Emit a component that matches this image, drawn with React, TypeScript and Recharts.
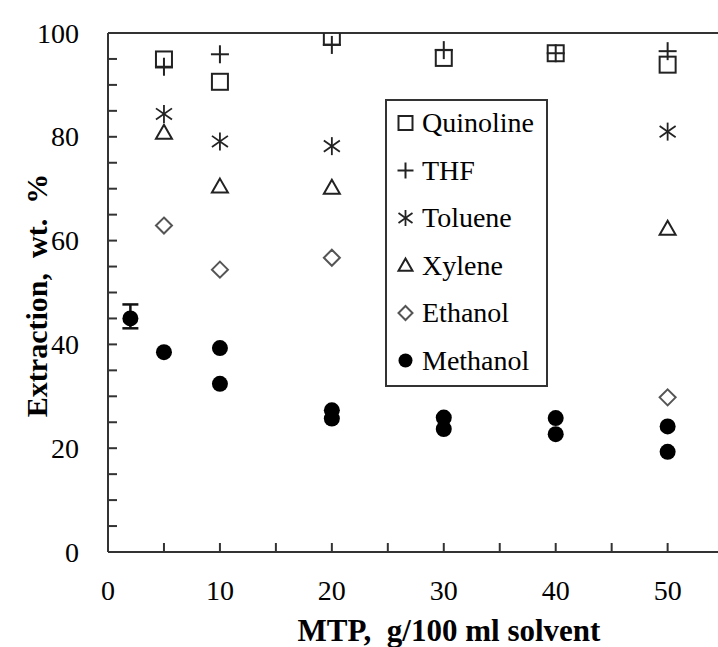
import React from 'react';
import { ScatterChart, Scatter, XAxis, YAxis, ReferenceLine, ErrorBar, Legend } from 'recharts';

const FONT = "'Liberation Serif', 'Times New Roman', Times, serif";

const xTicks = [0, 5, 10, 15, 20, 25, 30, 35, 40, 45, 50];
const xTickLabels = [0, 10, 20, 30, 40, 50];
const yTicks = [0, 5, 10, 15, 20, 25, 30, 35, 40, 45, 50, 55, 60, 65, 70, 75, 80, 85, 90, 95, 100];
const yTickLabels = [0, 20, 40, 60, 80, 100];

const quinolineX = [5, 10, 20, 30, 40, 50];
const quinolineY = [94.9, 90.6, 99.3, 95.2, 96.1, 93.9];
const thfX = [5, 10, 20, 30, 40, 50];
const thfY = [93.5, 95.9, 97.7, 96.7, 96.1, 96.5];
const tolueneX = [5, 10, 20, 50];
const tolueneY = [84.4, 79.1, 78.2, 81.0];
const xyleneX = [5, 10, 20, 50];
const xyleneY = [80.8, 70.4, 70.2, 62.3];
const ethanolX = [5, 10, 20, 50];
const ethanolY = [62.9, 54.4, 56.7, 29.8];
const methanolX = [2, 5, 10, 10, 20, 20, 30, 30, 40, 40, 50, 50];
const methanolY = [45.0, 38.5, 39.3, 32.4, 27.3, 25.7, 25.9, 23.7, 25.8, 22.7, 24.2, 19.3];
const methanolErrX = [2];
const methanolErrY = [45.0];
const methanolErrLowHigh = [[1.9, 2.7]];

const zip = (xs: number[], ys: number[]) => xs.map((x, i) => ({ x, y: ys[i] }));

type Kind = 'square' | 'plus' | 'star' | 'triangle' | 'diamond' | 'circle';

const series: { name: string; kind: Kind; data: { x: number; y: number }[] }[] = [
  { name: 'Quinoline', kind: 'square', data: zip(quinolineX, quinolineY) },
  { name: 'THF', kind: 'plus', data: zip(thfX, thfY) },
  { name: 'Toluene', kind: 'star', data: zip(tolueneX, tolueneY) },
  { name: 'Xylene', kind: 'triangle', data: zip(xyleneX, xyleneY) },
  { name: 'Ethanol', kind: 'diamond', data: zip(ethanolX, ethanolY) },
  { name: 'Methanol', kind: 'circle', data: zip(methanolX, methanolY) },
];

const errData = methanolErrX.map((x, i) => ({ x, y: methanolErrY[i], err: methanolErrLowHigh[i] }));

const INK = '#222';

const Glyph = ({ kind, cx, cy, s }: { kind: Kind; cx: number; cy: number; s: number }) => {
  const h = s / 2;
  switch (kind) {
    case 'square':
      return <rect x={cx - h} y={cy - h} width={s} height={s} fill="none" stroke={INK} strokeWidth={2} />;
    case 'plus':
      return (
        <g stroke={INK} strokeWidth={2}>
          <line x1={cx - h - 1} x2={cx + h + 1} y1={cy} y2={cy} />
          <line x1={cx} x2={cx} y1={cy - h - 1} y2={cy + h + 1} />
        </g>
      );
    case 'star':
      return (
        <g stroke={INK} strokeWidth={1.8}>
          <line x1={cx} x2={cx} y1={cy - h - 1} y2={cy + h + 1} />
          <line x1={cx - h} x2={cx + h} y1={cy - h * 0.7} y2={cy + h * 0.7} />
          <line x1={cx - h} x2={cx + h} y1={cy + h * 0.7} y2={cy - h * 0.7} />
        </g>
      );
    case 'triangle':
      return (
        <polygon
          points={`${cx},${cy - h} ${cx + h},${cy + h * 0.75} ${cx - h},${cy + h * 0.75}`}
          fill="none"
          stroke={INK}
          strokeWidth={2}
          strokeLinejoin="miter"
        />
      );
    case 'diamond':
      return (
        <polygon
          points={`${cx},${cy - h} ${cx + h},${cy} ${cx},${cy + h} ${cx - h},${cy}`}
          fill="#fff"
          stroke="#555"
          strokeWidth={2}
        />
      );
    case 'circle':
    default:
      return <circle cx={cx} cy={cy} r={h} fill="#000" />;
  }
};

const makeShape = (kind: Kind) => (props: any) => <Glyph kind={kind} cx={props.cx} cy={props.cy} s={16} />;

const XTick = (props: any) => {
  const { x, y, payload } = props;
  const v = payload.value;
  return (
    <g>
      <line x1={x} x2={x} y1={y} y2={y - 9} stroke="#333" strokeWidth={2} />
      {xTickLabels.includes(v) && (
        <text x={x} y={y + 48} textAnchor="middle" fontFamily={FONT} fontSize={28} fill="#000">
          {v}
        </text>
      )}
    </g>
  );
};

const YTick = (props: any) => {
  const { x, y, payload } = props;
  const v = payload.value;
  return (
    <g>
      <line x1={x} x2={x + 9} y1={y} y2={y} stroke="#333" strokeWidth={2} />
      {yTickLabels.includes(v) && (
        <text x={x - 29} y={y + 9.5} textAnchor="end" fontFamily={FONT} fontSize={28} fill="#000">
          {v}
        </text>
      )}
    </g>
  );
};

const XTitle = (props: any) => {
  const vb = props.viewBox;
  return (
    <text
      x={vb.x + vb.width / 2 + 36}
      y={vb.y + vb.height - 6}
      textAnchor="middle"
      fontFamily={FONT}
      fontWeight="bold"
      fontSize={31}
      fill="#000"
      style={{ whiteSpace: 'pre' }}
    >
      {'MTP,  g/100 ml solvent'}
    </text>
  );
};

const YTitle = (props: any) => {
  const vb = props.viewBox;
  const cx = 36;
  const cy = vb.y + vb.height / 2 + 3;
  return (
    <text
      x={cx}
      y={cy}
      transform={`rotate(-90, ${cx}, ${cy})`}
      textAnchor="middle"
      dominantBaseline="central"
      fontFamily={FONT}
      fontWeight="bold"
      fontSize={30}
      fill="#000"
      style={{ whiteSpace: 'pre' }}
    >
      {'Extraction,  wt.  %'}
    </text>
  );
};

const LW = 163;
const LH = 288;
const ROW = 47.5;

const LegendBox = () => (
  <svg width={LW} height={LH} style={{ display: 'block' }}>
    <rect x={1} y={1} width={LW - 2} height={LH - 2} fill="#fff" stroke="#333" strokeWidth={2} />
    {series.map((s, i) => {
      const cy = 24 + i * ROW;
      return (
        <g key={s.name}>
          <Glyph kind={s.kind} cx={20.5} cy={cy} s={14} />
          <text x={37} y={cy + 9} fontFamily={FONT} fontSize={28} fill="#000">
            {s.name}
          </text>
        </g>
      );
    })}
  </svg>
);

export default function App() {
  return (
    <div
      style={{
        position: 'absolute',
        left: 0,
        top: 0,
        width: 718,
        height: 647,
        background: '#fff',
      }}
    >
      <ScatterChart width={718} height={647} margin={{ top: 33, right: 0, bottom: 0, left: 0 }}>
        <XAxis
          type="number"
          dataKey="x"
          domain={[0, 54.5]}
          ticks={xTicks}
          interval={0}
          allowDataOverflow
          height={95}
          tickSize={0}
          tickMargin={0}
          tickLine={false}
          axisLine={{ stroke: '#333', strokeWidth: 2 }}
          tick={<XTick />}
          label={{ content: XTitle }}
        />
        <YAxis
          type="number"
          dataKey="y"
          domain={[0, 100]}
          ticks={yTicks}
          interval={0}
          allowDataOverflow
          width={108}
          tickSize={0}
          tickMargin={0}
          tickLine={false}
          axisLine={{ stroke: '#333', strokeWidth: 2 }}
          tick={<YTick />}
          label={{ content: YTitle }}
        />
        <ReferenceLine y={100} stroke="#333" strokeWidth={2} />
        {series.map((s) => (
          <Scatter
            key={s.name}
            name={s.name}
            data={s.data}
            shape={makeShape(s.kind)}
            isAnimationActive={false}
          />
        ))}
        <Scatter name="Methanol error" data={errData} shape={() => <g />} isAnimationActive={false} legendType="none">
          <ErrorBar dataKey="err" direction="y" width={8} strokeWidth={2.5} stroke="#111" isAnimationActive={false} />
        </Scatter>
        <Legend
          layout="vertical"
          align="center"
          verticalAlign="middle"
          content={() => <LegendBox />}
          wrapperStyle={{ left: 385, top: 99, width: LW, height: LH }}
        />
      </ScatterChart>
    </div>
  );
}
